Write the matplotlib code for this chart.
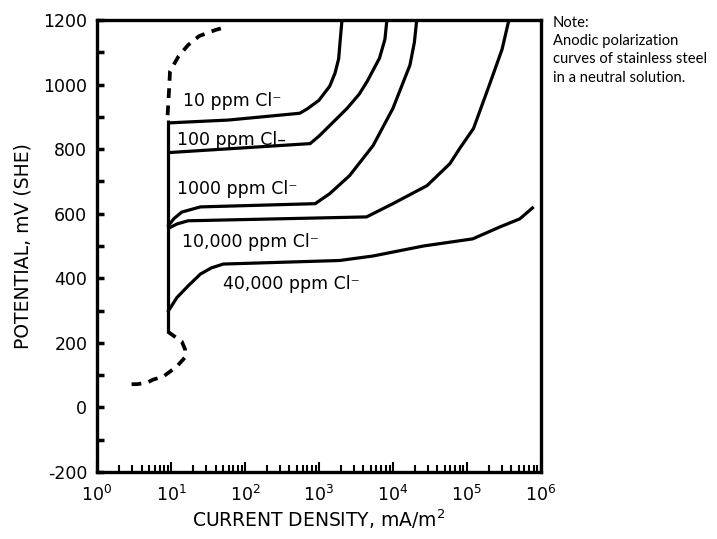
"""Anodic polarization curves of stainless steel"""
import numpy as np
import matplotlib
matplotlib.use("Agg")
import matplotlib.pyplot as plt
from matplotlib.ticker import FixedLocator, LogLocator, NullFormatter

# ---- data (x: current density mA/m2, y: potential mV SHE) ----
passive_x = [9, 9]
passive_y = [235, 890]

c10_x = [9, 60, 550, 700, 1000, 1400, 1650, 1850, 1900, 2050]
c10_y = [881, 890, 911, 925, 951, 995, 1035, 1080, 1113, 1200]

c100_x = [9, 760, 1000, 1400, 2400, 3500, 4500, 6600, 7800, 8300]
c100_y = [789, 817, 840, 873, 926, 970, 1010, 1082, 1140, 1200]

c1000_x = [9, 11, 14, 25, 890, 1400, 2600, 5400, 10000, 17000, 19500, 21000]
c1000_y = [560, 585, 605, 621, 631, 662, 718, 811, 926, 1060, 1130, 1200]

c10000_x = [9, 12, 17, 4400, 10000, 29000, 59000, 80000, 123000, 210000, 300000, 370000]
c10000_y = [553, 568, 578, 590, 631, 687, 755, 802, 864, 1010, 1110, 1200]

c40000_x = [9, 12, 17, 25, 35, 51, 1900, 5400, 26000, 120000, 280000, 520000, 800000]
c40000_y = [295, 340, 376, 413, 432, 444, 455, 469, 500, 522, 559, 584, 621]

dash_top_x = [9, 9.4, 9.7, 12.7, 17, 24, 40, 55]
dash_top_y = [905, 979, 1041, 1088, 1122, 1150, 1169, 1178]

dash_bot_x = [9, 14, 15.5, 15.5, 12, 9.7, 7.8, 5.7, 4.8, 3.5, 2.8]
dash_bot_y = [235, 204, 180, 155, 127, 111, 95, 86, 77, 72, 72]

labels = ["10 ppm Cl\u207b", "100 ppm Cl\u2013", "1000 ppm Cl\u207b",
          "10,000 ppm Cl\u207b", "40,000 ppm Cl\u207b"]
label_x = [14.6, 12, 12, 14.1, 51]
label_y = [948, 827, 677, 512, 382]

yticks = [-200, 0, 200, 400, 600, 800, 1000, 1200]
xticks = [1e0, 1e1, 1e2, 1e3, 1e4, 1e5, 1e6]

note = "Note:\nAnodic polarization\ncurves of stainless steel\nin a neutral solution."

plt.rcParams['font.family'] = ['DejaVu Sans']
plt.rcParams['axes.unicode_minus'] = False

fig = plt.figure(figsize=(7.17, 5.39), dpi=100)
ax = fig.add_axes([0.1353, 0.1243, 0.619, 0.8387])

lw = 2.3
for xs, ys in [(passive_x, passive_y), (c10_x, c10_y), (c100_x, c100_y),
               (c1000_x, c1000_y), (c10000_x, c10000_y), (c40000_x, c40000_y)]:
    ax.plot(xs, ys, color="black", lw=lw, solid_capstyle="butt",
            solid_joinstyle="round")

for xs, ys in [(dash_top_x, dash_top_y), (dash_bot_x, dash_bot_y)]:
    ax.plot(xs, ys, color="black", lw=2.7, linestyle=(0, (2.6, 2.0)))

for t, x, y in zip(labels, label_x, label_y):
    ax.text(x, y, t, fontsize=12.5, ha="left", va="center")

ax.set_xscale("log")
ax.set_xlim(1, 1e6)
ax.set_ylim(-200, 1200)

ax.xaxis.set_major_locator(FixedLocator(xticks))
ax.xaxis.set_minor_locator(LogLocator(base=10, subs=np.arange(2, 10), numticks=20))
ax.xaxis.set_minor_formatter(NullFormatter())
ax.set_xticklabels([f"$10^{{{int(np.log10(v))}}}$" for v in xticks])
ax.yaxis.set_major_locator(FixedLocator(yticks))
ax.yaxis.set_minor_locator(FixedLocator(np.arange(-100, 1200, 200)))

ax.tick_params(axis="both", which="both", direction="in", top=False, right=False,
               color="black")
ax.tick_params(axis="y", which="both", length=5, width=2.5, labelsize=12.5, pad=7)
ax.tick_params(axis="x", which="major", length=7, width=1.5, labelsize=12.5, pad=9)
ax.tick_params(axis="x", which="minor", length=5, width=1.5)

for s in ax.spines.values():
    s.set_linewidth(2.4)

ax.set_ylabel("POTENTIAL, mV (SHE)", fontsize=13.5, labelpad=8)
ax.set_xlabel("CURRENT DENSITY, mA/m$^2$", fontsize=13.5, labelpad=2)

fig.text(553 / 717, 1 - 16 / 539, note, fontsize=10.6, va="top", ha="left",
         family=["Lato", "DejaVu Sans"], linespacing=1.38)

fig.savefig("out.png", dpi=100)
